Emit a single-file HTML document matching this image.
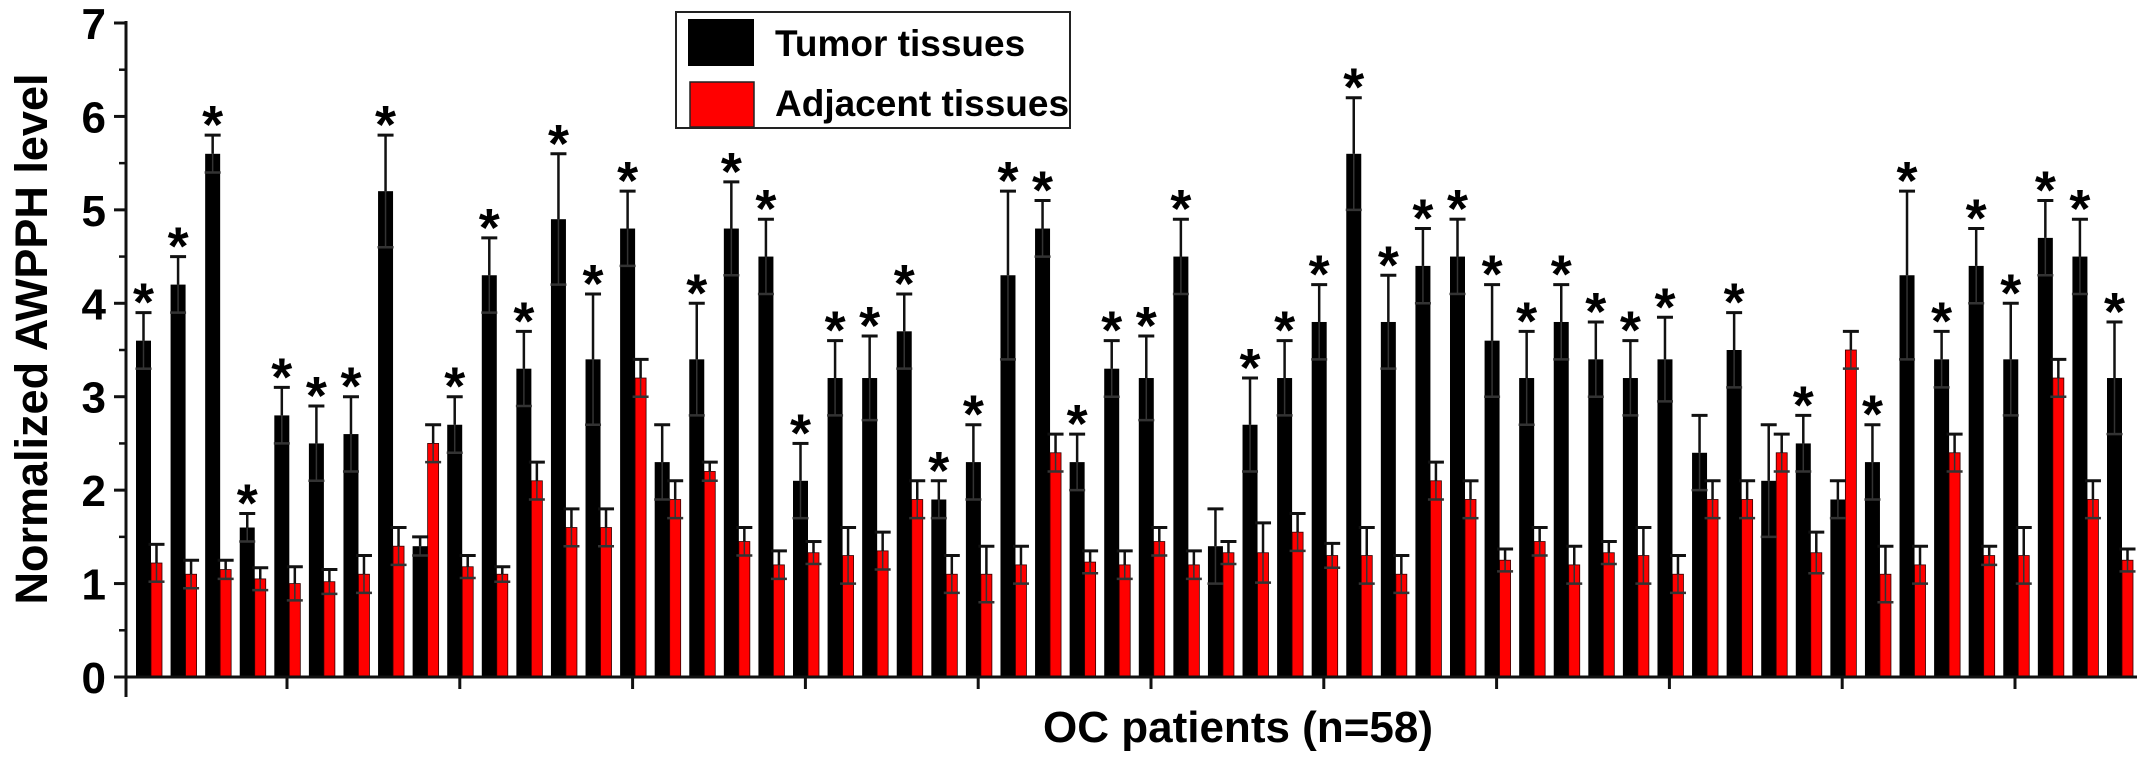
<!DOCTYPE html>
<html><head><meta charset="utf-8"><style>
html,body{margin:0;padding:0;background:#fff;}
svg{display:block;}
text{font-family:"Liberation Sans",Arial,sans-serif;font-weight:bold;}
</style></head><body>
<svg id="chart" width="2150" height="770" viewBox="0 0 2150 770" xmlns="http://www.w3.org/2000/svg">
<g id="marks"></g>
<g id="axes"></g>
<g>
<rect x="676" y="12" width="394" height="116" fill="#fff" stroke="#222" stroke-width="2"/>
<rect x="688" y="19" width="66" height="47" fill="#000"/>
<text x="775" y="56" font-size="37">Tumor tissues</text>
<rect x="690" y="82" width="64" height="45" fill="#f00" stroke="#222" stroke-width="1.5"/>
<text x="775" y="116" font-size="37">Adjacent tissues</text>
</g>
<text transform="translate(47,339) rotate(-90)" text-anchor="middle" font-size="45">Normalized AWPPH level</text>
<text x="1238" y="742" text-anchor="middle" font-size="44">OC patients (n=58)</text>
</svg>
<script>
const tumor=[3.6,4.2,5.6,1.6,2.8,2.5,2.6,5.2,1.4,2.7,4.3,3.3,4.9,3.4,4.8,2.3,3.4,4.8,4.5,2.1,3.2,3.2,3.7,1.9,2.3,4.3,4.8,2.3,3.3,3.2,4.5,1.4,2.7,3.2,3.8,5.6,3.8,4.4,4.5,3.6,3.2,3.8,3.4,3.2,3.4,2.4,3.5,2.1,2.5,1.9,2.3,4.3,3.4,4.4,3.4,4.7,4.5,3.2];
const tumorErr=[0.3,0.3,0.2,0.15,0.3,0.4,0.4,0.6,0.1,0.3,0.4,0.4,0.7,0.7,0.4,0.4,0.6,0.5,0.4,0.4,0.4,0.45,0.4,0.2,0.4,0.9,0.3,0.3,0.3,0.45,0.4,0.4,0.5,0.4,0.4,0.6,0.5,0.4,0.4,0.6,0.5,0.4,0.4,0.4,0.45,0.4,0.4,0.6,0.3,0.2,0.4,0.9,0.3,0.4,0.6,0.4,0.4,0.6];
const adjacent=[1.22,1.1,1.15,1.05,1.0,1.02,1.1,1.4,2.5,1.18,1.1,2.1,1.6,1.6,3.2,1.9,2.2,1.45,1.2,1.33,1.3,1.35,1.9,1.1,1.1,1.2,2.4,1.23,1.2,1.45,1.2,1.33,1.33,1.55,1.3,1.3,1.1,2.1,1.9,1.25,1.45,1.2,1.33,1.3,1.1,1.9,1.9,2.4,1.33,3.5,1.1,1.2,2.4,1.3,1.3,3.2,1.9,1.25];
const adjacentErr=[0.2,0.15,0.1,0.12,0.18,0.13,0.2,0.2,0.2,0.12,0.08,0.2,0.2,0.2,0.2,0.2,0.1,0.15,0.15,0.12,0.3,0.2,0.2,0.2,0.3,0.2,0.2,0.12,0.15,0.15,0.15,0.12,0.32,0.2,0.13,0.3,0.2,0.2,0.2,0.12,0.15,0.2,0.12,0.3,0.2,0.2,0.2,0.2,0.22,0.2,0.3,0.2,0.2,0.1,0.3,0.2,0.2,0.12];
const significant=[1,1,1,1,1,1,1,1,0,1,1,1,1,1,1,0,1,1,1,1,1,1,1,1,1,1,1,1,1,1,1,0,1,1,1,1,1,1,1,1,1,1,1,1,1,0,1,0,1,0,1,1,1,1,1,1,1,1];
const yTicks=[0,1,2,3,4,5,6,7];

const NS="http://www.w3.org/2000/svg";
const X0=126,X1=2137,Y0=677,YT=23,YMAX=7;
const n=tumor.length;
function y(v){return Y0-(v/YMAX)*(Y0-YT);}
function gx(i){return 136+i*(1971/(n-1));}
const marks=document.getElementById('marks');
const axes=document.getElementById('axes');
function mk(tag,attrs,parent){const e=document.createElementNS(NS,tag);for(const k in attrs)e.setAttribute(k,attrs[k]);parent.appendChild(e);return e;}
const BW=15,RW=11,CW=16;
function errbar(cx,v,e,parent,nm){
  const g=mk('g',{},parent);
  
  
  mk('line',{x1:cx,x2:cx,y1:y(v),y2:y(v+e),stroke:'#111','stroke-width':2.5},g);
  mk('line',{x1:cx-CW/2,x2:cx+CW/2,y1:y(v+e),y2:y(v+e),stroke:'#111','stroke-width':3},g);
  mk('line',{x1:cx-CW/2,x2:cx+CW/2,y1:y(v-e),y2:y(v-e),stroke:'#333','stroke-width':2.5},g);
  mk('line',{x1:cx,x2:cx,y1:y(v),y2:y(v-e),stroke:'#333','stroke-width':1.5},g);
}
for(let i=0;i<n;i++){
  const x=gx(i);
  const b=mk('rect',{x:x,y:y(tumor[i]),width:BW,height:Y0-y(tumor[i]),fill:'#000'},marks);
  
  
  const r=mk('rect',{x:x+BW,y:y(adjacent[i]),width:RW,height:Y0-y(adjacent[i]),fill:'#f00',stroke:'#300','stroke-width':0.8},marks);
  
  
  errbar(x+BW/2,tumor[i],tumorErr[i],marks,'tumor-error-'+(i+1));
  errbar(x+BW+RW/2,adjacent[i],adjacentErr[i],marks,'adjacent-error-'+(i+1));
  if(significant[i]){
    const s=mk('text',{x:x+BW/2,y:y(tumor[i]+tumorErr[i])+8,'text-anchor':'middle','font-size':54},marks);
    s.textContent='*';
    
    
  }
}
const ya=mk('line',{x1:X0,x2:X0,y1:YT-2,y2:Y0+20,stroke:'#111','stroke-width':3},axes);


const xa=mk('line',{x1:X0-12,x2:X1,y1:Y0,y2:Y0,stroke:'#111','stroke-width':3},axes);


yTicks.forEach(t=>{
  mk('line',{x1:X0-12,x2:X0,y1:y(t),y2:y(t),stroke:'#111','stroke-width':3},axes);
  if(t<YMAX) mk('line',{x1:X0-7,x2:X0,y1:y(t+0.5),y2:y(t+0.5),stroke:'#111','stroke-width':2.5},axes);
  const l=mk('text',{x:106,y:y(t)+16,'text-anchor':'end','font-size':44},axes);
  l.textContent=t;
  
  
});
for(let k=0;k<11;k++){
  const tx=287+k*172.8;
  mk('line',{x1:tx,x2:tx,y1:Y0,y2:Y0+12,stroke:'#111','stroke-width':3},axes);
}
</script>
</body></html>
